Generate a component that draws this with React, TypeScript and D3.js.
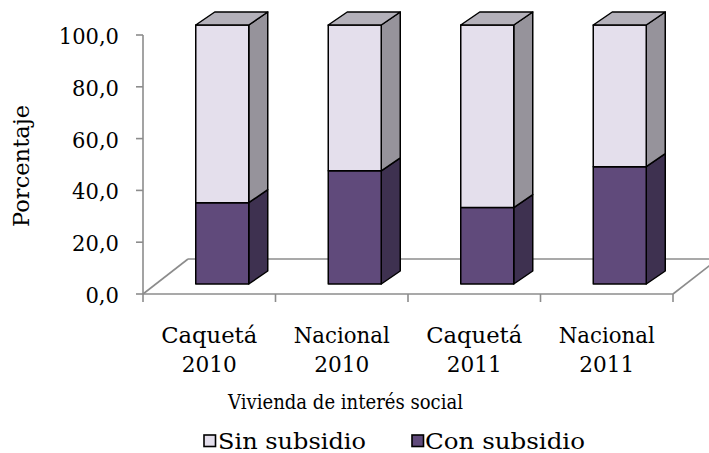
import React from "react";
import * as d3 from "d3";

const categories = [
  ["Caquetá", "2010"],
  ["Nacional", "2010"],
  ["Caquetá", "2011"],
  ["Nacional", "2011"],
];
const conSubsidio = [31.4, 43.7, 29.5, 45.3];
const sinSubsidio = conSubsidio.map((v) => 100 - v);
const yTicks = [0, 20, 40, 60, 80, 100];
const seriesNames = ["Sin subsidio", "Con subsidio"];
const xTitle = "Vivienda de interés social";
const yTitle = "Porcentaje";

const W = 709;
const H = 453;
const FONT = "'DejaVu Serif', serif";

const colors = {
  sinFront: "#E4DFEC",
  sinSide: "#96939B",
  sinTop: "#B4B1BA",
  conFront: "#604A7B",
  conSide: "#3E3150",
  axis: "#8C8C8C",
};

export default function App() {
  const left = 143;
  const right = 673;
  const y = d3.scaleLinear().domain([0, 100]).range([294, 35]);
  const x = d3
    .scaleBand<number>()
    .domain(d3.range(categories.length))
    .range([left, right])
    .padding(0);
  const floorDx = 45;
  const floorDy = -35;
  const shiftX = 13;
  const shiftY = -10;
  const barW = x.bandwidth() * 0.4;
  const bdx = 19;
  const bdy = -13;

  const pts = (arr: number[][]) => arr.map((p) => p.join(",")).join(" ");
  const fmt = (t: number) => d3.format(".1f")(t).replace(".", ",");
  const charW = 13.3;

  return (
    <svg
      width={W}
      height={H}
      style={{ position: "absolute", left: 0, top: 0, background: "#fff" }}
      fontFamily={FONT}
    >
      {/* floor */}
      <g stroke={colors.axis} strokeWidth={1.6} fill="none">
        <line x1={left} y1={y(0)} x2={right} y2={y(0)} />
        <line x1={left + floorDx} y1={y(0) + floorDy} x2={right + floorDx} y2={y(0) + floorDy} />
        <line x1={left} y1={y(0)} x2={left + floorDx} y2={y(0) + floorDy} />
        <line x1={right} y1={y(0)} x2={right + floorDx} y2={y(0) + floorDy} />
        {/* vertical axis */}
        <line x1={left} y1={y(100)} x2={left} y2={y(0)} />
        {yTicks.map((t) => (
          <line key={t} x1={left - 7} y1={y(t)} x2={left} y2={y(t)} />
        ))}
        {d3.range(categories.length + 1).map((i) => {
          const xx = i < categories.length ? (x(i) as number) : right;
          return <line key={i} x1={xx} y1={y(0)} x2={xx} y2={y(0) + 8} />;
        })}
      </g>

      {/* bars */}
      <g stroke="#000" strokeWidth={1.5} strokeLinejoin="round">
        {categories.map((c, i) => {
          const cx = (x(i) as number) + x.bandwidth() / 2 + shiftX;
          const x0 = cx - barW / 2;
          const x1 = cx + barW / 2;
          const yb = y(0) + shiftY;
          const yc = y(conSubsidio[i]) + shiftY;
          const yt = y(conSubsidio[i] + sinSubsidio[i]) + shiftY;
          return (
            <g key={i}>
              <polygon
                points={pts([[x1, yb], [x1 + bdx, yb + bdy], [x1 + bdx, yc + bdy], [x1, yc]])}
                fill={colors.conSide}
              />
              <rect x={x0} y={yc} width={barW} height={yb - yc} fill={colors.conFront} />
              <polygon
                points={pts([[x1, yc], [x1 + bdx, yc + bdy], [x1 + bdx, yt + bdy], [x1, yt]])}
                fill={colors.sinSide}
              />
              <rect x={x0} y={yt} width={barW} height={yc - yt} fill={colors.sinFront} />
              <polygon
                points={pts([[x0, yt], [x1, yt], [x1 + bdx, yt + bdy], [x0 + bdx, yt + bdy]])}
                fill={colors.sinTop}
              />
            </g>
          );
        })}
      </g>

      {/* y tick labels */}
      <g fontSize={22} fill="#000" textAnchor="end">
        {yTicks.map((t) => {
          const s = fmt(t);
          const digits = s.length - 1;
          return (
            <text key={t} x={119} y={y(t) + 9} textLength={digits * charW + 7} lengthAdjust="spacingAndGlyphs">
              {s}
            </text>
          );
        })}
      </g>

      {/* y title */}
      <text
        transform="translate(29,166) rotate(-90)"
        textAnchor="middle"
        fontSize={22}
        fill="#000"
        textLength={122}
        lengthAdjust="spacingAndGlyphs"
      >
        {yTitle}
      </text>

      {/* category labels */}
      <g fontSize={22} fill="#000" textAnchor="middle">
        {categories.map((c, i) => {
          const cx = (x(i) as number) + x.bandwidth() / 2;
          return (
            <g key={i}>
              <text x={cx} y={343} textLength={96} lengthAdjust="spacingAndGlyphs">{c[0]}</text>
              <text x={cx} y={372} textLength={55} lengthAdjust="spacingAndGlyphs">{c[1]}</text>
            </g>
          );
        })}
      </g>

      {/* x title */}
      <text x={345.5} y={409} textAnchor="middle" fontSize={20.5} fill="#000" textLength={235} lengthAdjust="spacingAndGlyphs">
        {xTitle}
      </text>

      {/* legend */}
      <g fontSize={22} fill="#000">
        <rect x={204} y={435} width={11.5} height={11.5} fill={colors.sinFront} stroke="#000" strokeWidth={1.6} />
        <text x={218} y={449} textLength={148} lengthAdjust="spacingAndGlyphs">{seriesNames[0]}</text>
        <rect x={412} y={435} width={11.5} height={11.5} fill={colors.conFront} stroke="#000" strokeWidth={1.6} />
        <text x={425} y={449} textLength={160} lengthAdjust="spacingAndGlyphs">{seriesNames[1]}</text>
      </g>
    </svg>
  );
}
